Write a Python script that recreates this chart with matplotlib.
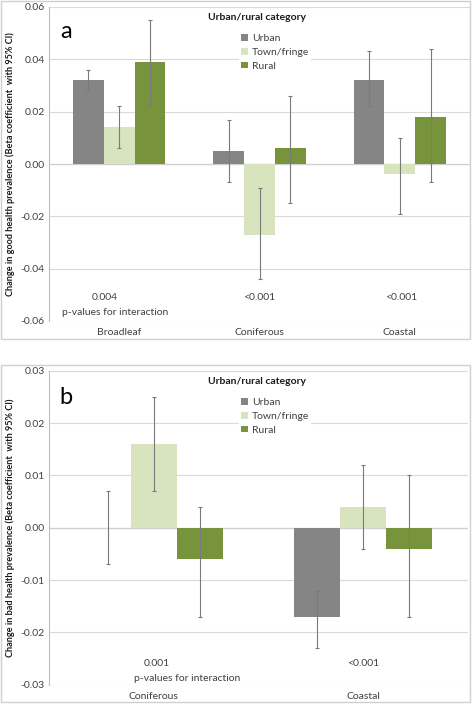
import matplotlib
matplotlib.use("Agg")
import matplotlib.pyplot as plt
from matplotlib.patches import Rectangle, Patch
import numpy as np

plt.rcParams['font.family'] = ['Lato', 'DejaVu Sans']

series = ["Urban", "Town/fringe", "Rural"]
colors = ["#858585", "#d7e4bd", "#77933c"]

# Panel a: good health
cats_a = ["Broadleaf", "Coniferous", "Coastal"]
val_a = {"Urban": [0.032, 0.005, 0.032],
         "Town/fringe": [0.014, -0.027, -0.004],
         "Rural": [0.039, 0.006, 0.018]}
lo_a = {"Urban": [0.028, -0.007, 0.022],
        "Town/fringe": [0.006, -0.044, -0.019],
        "Rural": [0.023, -0.015, -0.007]}
hi_a = {"Urban": [0.036, 0.017, 0.043],
        "Town/fringe": [0.022, -0.009, 0.010],
        "Rural": [0.055, 0.026, 0.044]}
pvals_a = ["0.004", "<0.001", "<0.001"]

# Panel b: bad health
cats_b = ["Coniferous", "Coastal"]
val_b = {"Urban": [0.0, -0.017],
         "Town/fringe": [0.016, 0.004],
         "Rural": [-0.006, -0.004]}
lo_b = {"Urban": [-0.007, -0.023],
        "Town/fringe": [0.007, -0.004],
        "Rural": [-0.017, -0.017]}
hi_b = {"Urban": [0.007, -0.012],
        "Town/fringe": [0.025, 0.012],
        "Rural": [0.004, 0.010]}
pvals_b = ["0.001", "<0.001"]

W, H = 472, 704
fig = plt.figure(figsize=(W/100, H/100), dpi=100)

def fx(px): return px / W
def fy(py): return 1 - py / H

# outer frames
for (x0, y0, x1, y1) in [(1, 1, 470, 339), (1, 365, 470, 702)]:
    fig.patches.append(Rectangle((fx(x0), fy(y1)), fx(x1) - fx(x0), fy(y0) - fy(y1),
                                 transform=fig.transFigure, fill=False,
                                 edgecolor="#d0d0d0", lw=1.0))

def panel(rect, cats, vals, los, his, ylim, yticks, ylabel, letter, letter_xy,
          pvals, p_y, pint_xy, legend_top):
    ax = fig.add_axes(rect)
    n = len(cats)
    x = np.arange(n)
    bw = 0.22
    for i, s in enumerate(series):
        v = np.array(vals[s])
        lo = np.array(los[s]); hi = np.array(his[s])
        pos = x + (i - 1) * bw
        ax.bar(pos, v, width=bw, color=colors[i], edgecolor="none", zorder=2, label=s)
        ax.errorbar(pos, v, yerr=[v - lo, hi - v], fmt="none", ecolor="#7a7a7a",
                    elinewidth=0.8, capsize=1.5, capthick=0.8, zorder=3)
    ax.set_xlim(-0.5, n - 0.5)
    ax.set_ylim(*ylim)
    ax.set_yticks(yticks)
    ax.set_yticklabels([f"{t:.2f}" for t in yticks], fontsize=7.5, color="#404040")
    ax.set_xticks(x)
    ax.set_xticklabels(cats, fontsize=7.5, color="#404040")
    ax.tick_params(axis="x", length=0, pad=5)
    ax.tick_params(axis="y", length=0, pad=3)
    ax.yaxis.grid(True, color="#d9d9d9", lw=0.8, zorder=0)
    ax.set_axisbelow(True)
    for sp in ["top", "right", "bottom"]:
        ax.spines[sp].set_visible(False)
    ax.spines["left"].set_color("#bfbfbf")
    ax.spines["left"].set_linewidth(0.8)
    ax.axhline(0, color="#cfcfcf", lw=0.9, zorder=1)
    ax.set_ylabel(ylabel, fontsize=6.6, fontweight="bold", color="#1a1a1a")
    ax.yaxis.set_label_coords(fx(15 - 49) / rect[2], 0.5)
    fig.text(fx(letter_xy[0]), fy(letter_xy[1]), letter, fontsize=17,
             ha="center", va="center")
    for i, p in enumerate(pvals):
        ax.text(p_y[0][i], p_y[1], p, fontsize=7.5, ha="center", va="center",
                color="#404040")
    ax.text(pint_xy[0], pint_xy[1], "p-values for interaction", fontsize=7.5,
            ha="center", va="center", color="#404040")
    # legend
    fig.text(fx(257), fy(legend_top), "Urban/rural category", fontsize=7.5,
             fontweight="bold", ha="center", va="center", color="#1a1a1a")
    handles = [Patch(facecolor=c, edgecolor="none") for c in colors]
    leg = ax.legend(handles, series, loc="upper left",
                    bbox_to_anchor=(fx(234), fy(legend_top + 9)),
                    bbox_transform=fig.transFigure, fontsize=7.5,
                    frameon=True, facecolor="white", edgecolor="none", framealpha=1,
                    handlelength=0.6, handleheight=0.6, handletextpad=0.4,
                    labelspacing=0.45, borderpad=0.2, fancybox=False)
    for t in leg.get_texts():
        t.set_color("#404040")
    return ax

# Panel a
panel([fx(49), fy(321), fx(470) - fx(49), fy(7) - fy(321)],
      cats_a, val_a, lo_a, hi_a, (-0.06, 0.06),
      [-0.06, -0.04, -0.02, 0.0, 0.02, 0.04, 0.06],
      "Change in good health prevalence (Beta coefficient  with 95% CI)",
      "a", (66, 32), pvals_a, ([-0.1, 1.0, 2.01], -0.0512), (-0.03, -0.0566), 18)

# Panel b
panel([fx(49), fy(684.7), fx(468) - fx(49), fy(370.7) - fy(684.7)],
      cats_b, val_b, lo_b, hi_b, (-0.03, 0.03),
      [-0.03, -0.02, -0.01, 0.0, 0.01, 0.02, 0.03],
      "Change in bad health prevalence (Beta coefficient  with 95% CI)",
      "b", (66, 398), pvals_b, ([0.015, 1.0], -0.026), (0.16, -0.0289), 382)

fig.savefig("out.png", dpi=100)
